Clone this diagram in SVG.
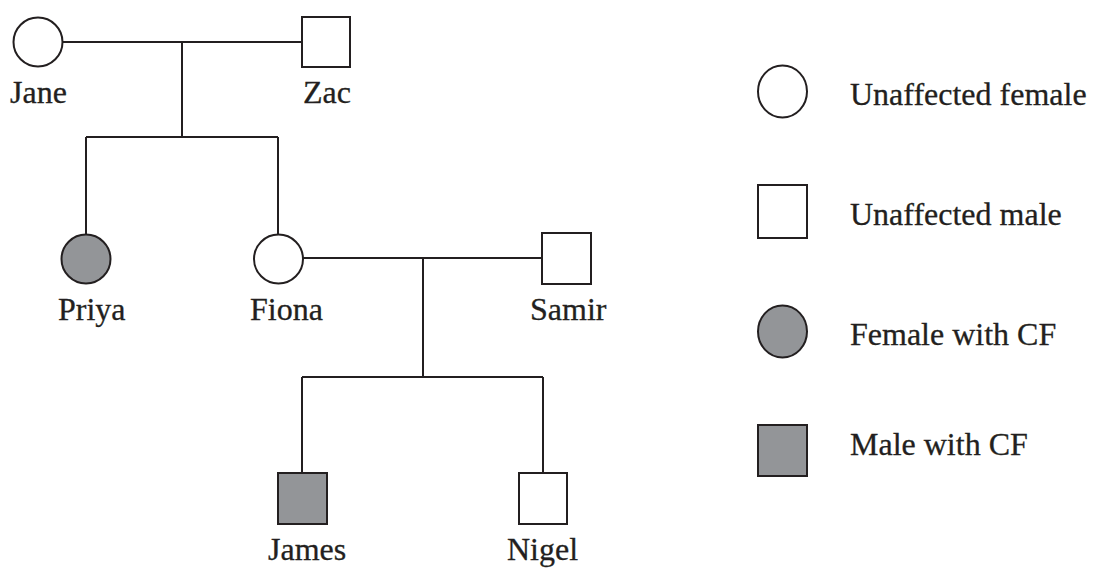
<svg xmlns="http://www.w3.org/2000/svg" width="1095" height="568" viewBox="0 0 1095 568">
<style>
.s{stroke:#231f20;stroke-width:2;fill:#fff}
.a{fill:#939598}
.l{stroke:#231f20;stroke-width:2;fill:none}
text{font-family:"Liberation Serif","Times New Roman",serif;font-size:32px;fill:#231f20;stroke:#231f20;stroke-width:0.3}
</style>
<rect width="1095" height="568" fill="#fff"/>
<g id="connectors">
<path class="l" d="M62 42H302M182 42V137M86 137H278M86 137V234M278 137V234"/>
<path class="l" d="M303 258H542M423 258V377M302 377H543M302 377V473M543 377V473"/>
</g>
<g id="jane"><circle class="s" cx="38" cy="42" r="24.5"/><text x="10" y="103">Jane</text></g>
<g id="zac"><rect class="s" x="302" y="17" width="48" height="50"/><text x="303" y="103">Zac</text></g>
<g id="priya"><circle class="s a" cx="86" cy="259" r="24.5"/><text x="58" y="320">Priya</text></g>
<g id="fiona"><circle class="s" cx="278.5" cy="259" r="24.5"/><text x="250" y="320">Fiona</text></g>
<g id="samir"><rect class="s" x="542" y="233" width="49" height="51"/><text x="530" y="320">Samir</text></g>
<g id="james"><rect class="s a" x="278" y="473" width="49" height="51"/><text x="268" y="560">James</text></g>
<g id="nigel"><rect class="s" x="519" y="473" width="48" height="51"/><text x="507" y="560">Nigel</text></g>
<g id="legend">
<g id="leg-uf"><ellipse class="s" cx="782.5" cy="91.5" rx="24.5" ry="26"/><text x="850" y="105">Unaffected female</text></g>
<g id="leg-um"><rect class="s" x="758" y="185" width="49" height="53"/><text x="850" y="225">Unaffected male</text></g>
<g id="leg-af"><ellipse class="s a" cx="782.5" cy="331.5" rx="24.5" ry="26"/><text x="850" y="345">Female with CF</text></g>
<g id="leg-am"><rect class="s a" x="758" y="425" width="49" height="51"/><text x="850" y="455">Male with CF</text></g>
</g>
</svg>
